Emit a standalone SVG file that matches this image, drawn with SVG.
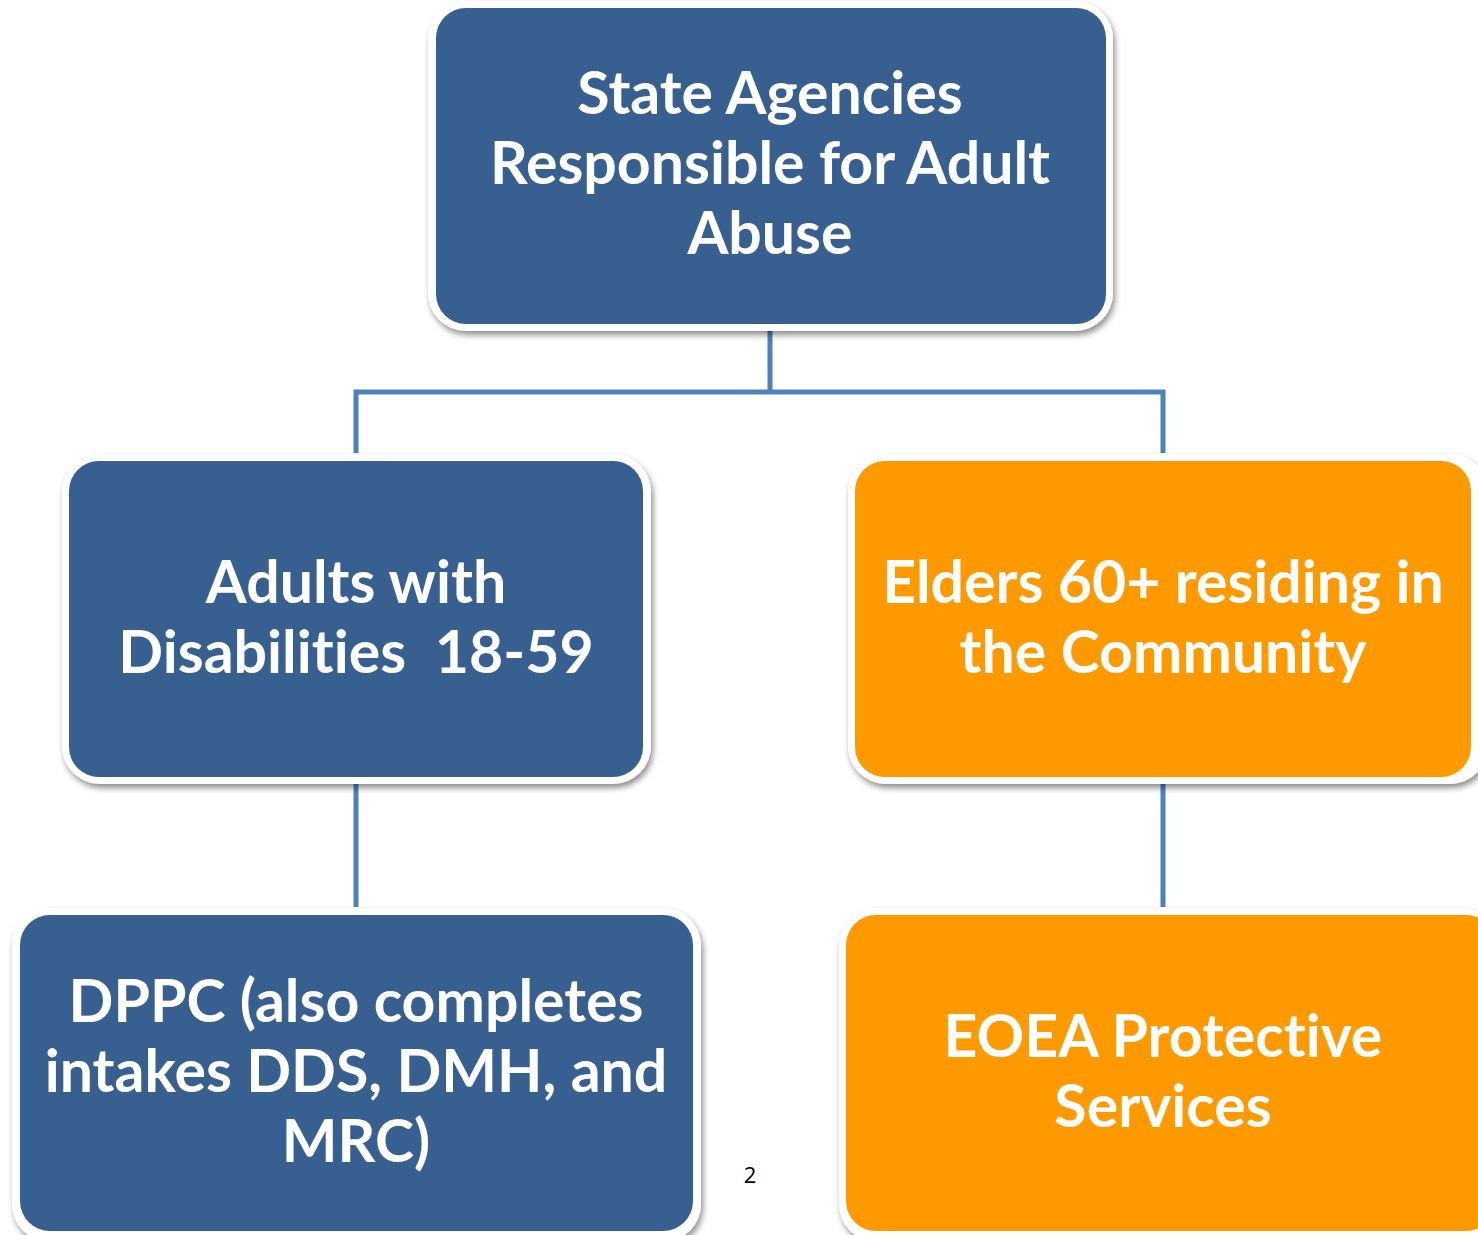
<svg xmlns="http://www.w3.org/2000/svg" width="1478" height="1235" viewBox="0 0 1478 1235">
  <defs>
    <filter id="shadow" x="-10%" y="-10%" width="120%" height="130%">
      <feGaussianBlur in="SourceAlpha" stdDeviation="3"/>
      <feOffset dx="2" dy="4" result="b"/>
      <feComponentTransfer><feFuncA type="linear" slope="0.45"/></feComponentTransfer>
      <feMerge><feMergeNode/><feMergeNode in="SourceGraphic"/></feMerge>
    </filter>
  </defs>
  <style>
    .frame { fill: #ffffff; filter: url(#shadow); }
    .blue { fill: #376091; }
    .orange { fill: #fe9900; }
    .label { font-family: Lato, "Open Sans", sans-serif; font-weight: bold; font-size: 59px; fill: #ffffff; text-anchor: middle; font-variant-ligatures: none; font-feature-settings: "liga" 0, "dlig" 0; }
    .conn { fill: none; stroke: #4f81bd; stroke-width: 5; }
    .page { font-family: "Open Sans", sans-serif; font-size: 22px; fill: #000000; text-anchor: middle; }
  </style>
  <rect width="1478" height="1235" fill="#ffffff"/>

  <g id="connectors">
    <path class="conn" d="M770 327 V392 M356 453 V392 H1163 V453"/>
    <path class="conn" d="M356 782 V907"/>
    <path class="conn" d="M1163 782 V907"/>
  </g>

  <g id="node-state">
    <rect class="frame" x="428" y="1" width="685" height="330" rx="38"/>
    <rect class="blue" x="436" y="8" width="670" height="316" rx="30"/>
    <text class="label" x="770" y="114">State Agencies</text>
    <text class="label" x="770" y="184">Responsible for Adult</text>
    <text class="label" x="770" y="254">Abuse</text>
  </g>

  <g id="node-adults">
    <rect class="frame" x="62" y="454" width="589" height="330" rx="38"/>
    <rect class="blue" x="69" y="461" width="574" height="316" rx="30"/>
    <text class="label" x="356" y="603">Adults with</text>
    <text class="label" x="356" y="673" xml:space="preserve">Disabilities  18-59</text>
  </g>

  <g id="node-elders">
    <rect class="frame" x="848" y="454" width="640" height="330" rx="38"/>
    <rect class="orange" x="855" y="461" width="616" height="316" rx="30"/>
    <text class="label" x="1163" y="603">Elders 60+ residing in</text>
    <text class="label" x="1163" y="673">the Community</text>
  </g>

  <g id="node-dppc">
    <rect class="frame" x="12" y="908" width="689" height="334" rx="38"/>
    <rect class="blue" x="20" y="915" width="673" height="316" rx="30"/>
    <text class="label" x="356" y="1022">DPPC (also completes</text>
    <text class="label" x="356" y="1092">intakes DDS, DMH, and</text>
    <text class="label" x="356" y="1162">MRC)</text>
  </g>

  <g id="node-eoea">
    <rect class="frame" x="839" y="908" width="660" height="334" rx="38"/>
    <rect class="orange" x="846" y="915" width="650" height="316" rx="30"/>
    <text class="label" x="1163" y="1057">EOEA Protective</text>
    <text class="label" x="1163" y="1127">Services</text>
  </g>

  <text class="page" x="750" y="1183">2</text>
</svg>
